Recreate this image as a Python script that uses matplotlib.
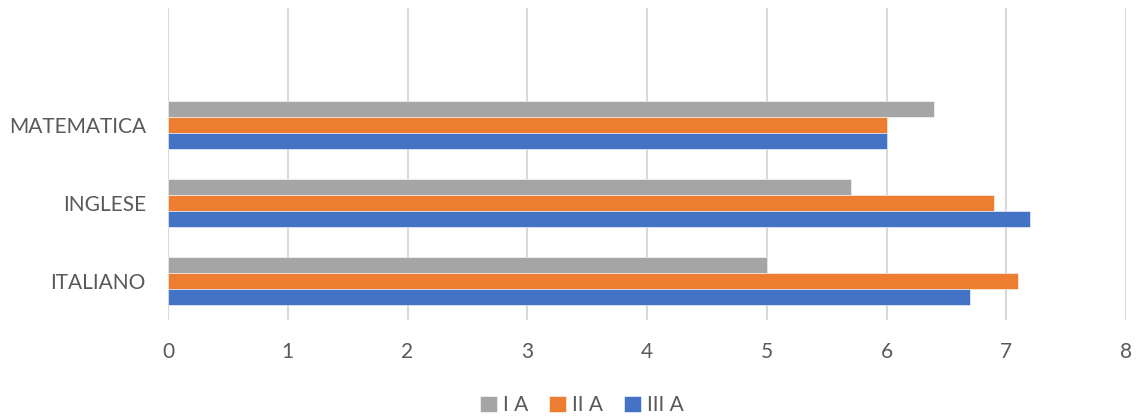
import numpy as np
import matplotlib.pyplot as plt

plt.rcParams['font.family'] = ['Lato', 'DejaVu Sans']

materie = ['ITALIANO', 'INGLESE', 'MATEMATICA', '']
classi = ['I A', 'II A', 'III A']
voti_IA = [5.0, 5.7, 6.4]
voti_IIA = [7.1, 6.9, 6.0]
voti_IIIA = [6.7, 7.2, 6.0]
colori = ['#A5A5A5', '#ED7D31', '#4472C4']

fig = plt.figure(figsize=(11.37, 4.2), dpi=100)
ax = fig.add_axes([168/1137, 100/420, (1126-168)/1137, 312/420])

y = np.arange(len(voti_IA))
h = 0.205
serie = [voti_IA, voti_IIA, voti_IIIA]
offset = [h, 0, -h]
for vals, off, col, lab in zip(serie, offset, colori, classi):
    ax.barh(y + off, vals, height=h, color=col, label=lab,
            edgecolor='white', linewidth=0.4, zorder=3)

ax.set_xlim(0, 8)
ax.set_ylim(-0.5, 3.5)
ax.set_xticks(np.arange(0, 9, 1))
ax.set_yticks(np.arange(len(materie)))
ax.set_yticklabels(materie)
ax.xaxis.grid(True, color='#D9D9D9', linewidth=1.5, zorder=0)
ax.set_axisbelow(True)
for s in ax.spines.values():
    s.set_visible(False)
ax.tick_params(axis='both', length=0, labelsize=15, colors='#595959')
ax.tick_params(axis='x', pad=16)
ax.tick_params(axis='y', pad=16)

leg = fig.legend(loc='center', bbox_to_anchor=(582/1137, 1 - 405/420), ncol=3,
                 frameon=False, fontsize=15, handlelength=0.8, handleheight=0.8,
                 handletextpad=0.3, columnspacing=1.0)
for t in leg.get_texts():
    t.set_color('#595959')

fig.savefig('out.png', dpi=100)
